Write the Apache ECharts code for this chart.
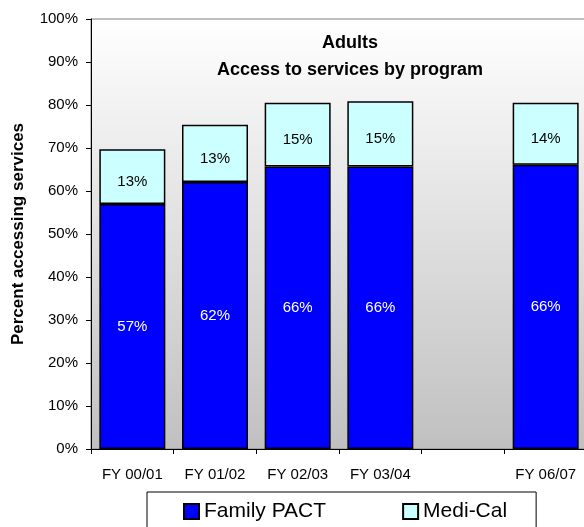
<!DOCTYPE html>
<html>
<head>
<meta charset="utf-8">
<script src="https://cdn.jsdelivr.net/npm/echarts@6/dist/echarts.min.js"></script>
<style>
  html, body { margin: 0; padding: 0; background: #fff; }
  #adults-chart { width: 584px; height: 527px; }
</style>
</head>
<body>
<div id="adults-chart"></div>
<script>
// data (percent of adults)
const categories = ["FY 00/01", "FY 01/02", "FY 02/03", "FY 03/04", "", "FY 06/07"];
const familyPact = [57, 62.1, 65.7, 65.7, "-", 66.1];
const mediCal = [12.7, 13.3, 14.8, 15.2, "-", 14.4];
const yTicks = { min: 0, max: 100, interval: 10 };

const fontFamily = "Liberation Sans, Arial, sans-serif";
let myChart = echarts.init(document.getElementById("adults-chart"));

let option = {
  animation: false,
  title: {
    text: "Adults\nAccess to services by program",
    left: 345,
    top: 25,
    textAlign: "center",
    textStyle: {
      fontFamily: fontFamily,
      fontSize: 18,
      fontWeight: "bold",
      color: "#000",
      lineHeight: 27,
      align: "center"
    }
  },
  legend: {
    left: 147,
    top: 492,
    orient: "horizontal",
    itemWidth: 15,
    itemHeight: 15,
    itemGap: 76,
    padding: [9, 29, 9, 36],
    borderColor: "#000",
    borderWidth: 1,
    backgroundColor: "#fff",
    icon: "rect",
    textStyle: { fontFamily: fontFamily, fontSize: 21, color: "#000" },
    data: ["Family PACT", "Medi-Cal"]
  },
  grid: {
    left: 91,
    top: 19,
    width: 496,
    height: 430,
    outerBoundsMode: "none",
    containLabel: false,
    show: true,
    borderColor: "#808080",
    borderWidth: 1,
    backgroundColor: new echarts.graphic.LinearGradient(0, 0, 0, 1, [
      { offset: 0, color: "#ffffff" },
      { offset: 1, color: "#c0c0c0" }
    ])
  },
  xAxis: {
    type: "category",
    data: categories,
    axisLine: { lineStyle: { color: "#000", width: 1 } },
    axisTick: { show: true, length: 5, lineStyle: { color: "#000" } },
    axisLabel: {
      interval: 0,
      margin: 18,
      color: "#000",
      fontFamily: fontFamily,
      fontSize: 15
    }
  },
  yAxis: {
    type: "value",
    min: yTicks.min,
    max: yTicks.max,
    interval: yTicks.interval,
    name: "Percent accessing services",
    nameLocation: "middle",
    nameGap: 64,
    nameTextStyle: {
      fontFamily: fontFamily,
      fontSize: 17,
      fontWeight: "bold",
      color: "#000"
    },
    axisLine: { show: true, lineStyle: { color: "#000", width: 1 } },
    axisTick: { show: true, length: 5, lineStyle: { color: "#000" } },
    splitLine: { show: false },
    axisLabel: {
      formatter: "{value}%",
      margin: 13,
      color: "#000",
      fontFamily: fontFamily,
      fontSize: 15
    }
  },
  series: [
    {
      name: "Family PACT",
      type: "bar",
      stack: "total",
      barWidth: 66,
      data: familyPact,
      itemStyle: { color: "#0000ff", borderColor: "#000", borderWidth: 1.5 },
      label: {
        show: true,
        position: "inside",
        color: "#fff",
        fontFamily: fontFamily,
        fontSize: 15,
        formatter: p => Math.round(p.value) + "%"
      }
    },
    {
      name: "Medi-Cal",
      type: "bar",
      stack: "total",
      barWidth: 66,
      data: mediCal,
      itemStyle: { color: "#ccffff", borderColor: "#000", borderWidth: 1.5 },
      label: {
        show: true,
        position: "inside",
        offset: [0, 5],
        color: "#000",
        fontFamily: fontFamily,
        fontSize: 15,
        formatter: p => Math.round(p.value) + "%"
      }
    }
  ]
};

option && myChart.setOption(option);
</script>
</body>
</html>
